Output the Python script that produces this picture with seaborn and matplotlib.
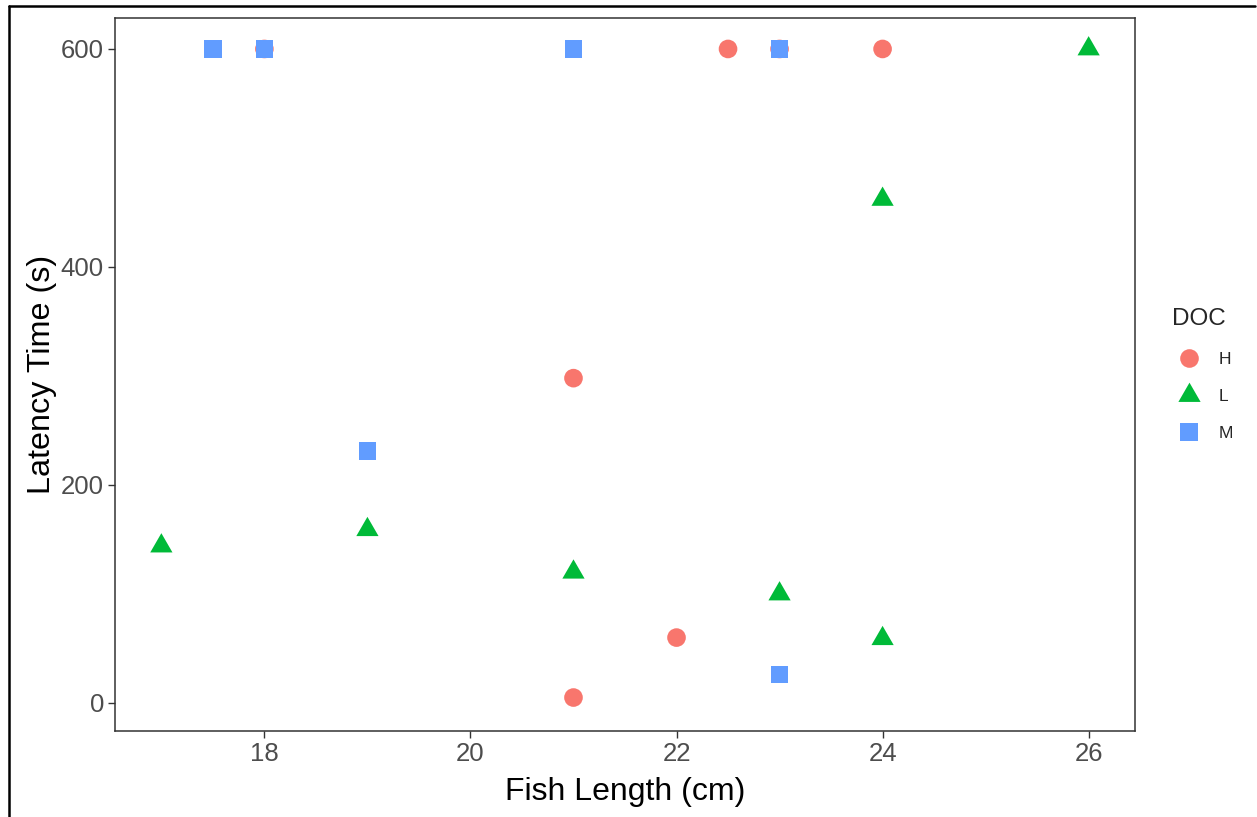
import numpy as np
import pandas as pd
import matplotlib
matplotlib.use("Agg")
import matplotlib.pyplot as plt
from matplotlib.lines import Line2D
import seaborn as sns

# ---- data ----
doc_levels = ["H", "L", "M"]
h_length = [18, 22.5, 23, 24, 21, 22, 21]
h_latency = [600, 600, 600, 600, 298, 60, 5]
l_length = [17, 19, 21, 23, 24, 24, 26]
l_latency = [144, 159, 120, 100, 59, 462, 600]
m_length = [17.5, 18, 21, 23, 19, 23]
m_latency = [600, 600, 600, 600, 231, 26]
x_ticks = [18, 20, 22, 24, 26]
y_ticks = [0, 200, 400, 600]

df = pd.DataFrame({
    "Fish Length (cm)": h_length + l_length + m_length,
    "Latency Time (s)": h_latency + l_latency + m_latency,
    "DOC": ["H"] * len(h_length) + ["L"] * len(l_length) + ["M"] * len(m_length),
})

palette = {"H": "#F8766D", "L": "#00BA38", "M": "#619CFF"}
tri = [(0.0, 1.0), (-0.866, -0.5), (0.866, -0.5)]
markers = {"H": "o", "L": tri, "M": "s"}
sizes = {"H": 180, "L": 342, "M": 162}

sns.set_theme(style="white")
plt.rcParams["font.family"] = ["Liberation Sans", "DejaVu Sans"]

fig = plt.figure(figsize=(12.57, 8.17), dpi=100)
ax = fig.add_axes([115 / 1257, 1 - 731 / 817, 1020 / 1257, 713 / 817])

sns.scatterplot(data=df, x="Fish Length (cm)", y="Latency Time (s)",
                hue="DOC", style="DOC", size="DOC",
                hue_order=doc_levels, style_order=doc_levels, size_order=doc_levels,
                palette=palette, markers=markers, sizes=sizes,
                linewidth=0, edgecolor="none", alpha=1, ax=ax, legend=False)

ax.set_xlim(16.55, 26.45)
ax.set_ylim(-25.7, 628.4)
ax.set_xticks(x_ticks)
ax.set_yticks(y_ticks)
ax.tick_params(axis="both", which="both", direction="out", length=5, width=1.0,
               color="#333333", labelcolor="#4D4D4D", labelsize=18.5, pad=3,
               bottom=True, left=True)
for sp in ax.spines.values():
    sp.set_visible(True)
    sp.set_color("#333333")
    sp.set_linewidth(1.1)
ax.grid(False)
ax.set_xlabel("Fish Length (cm)", fontsize=23, color="black", labelpad=8)
ax.set_ylabel("Latency Time (s)", fontsize=23.3, color="black", labelpad=3)

handles = []
msz = {k: np.sqrt(v) for k, v in sizes.items()}
for lv in doc_levels:
    handles.append(Line2D([], [], linestyle="none", marker=markers[lv],
                          markersize=msz[lv], markerfacecolor=palette[lv],
                          markeredgewidth=0, color=palette[lv]))
leg = ax.legend(handles, doc_levels, title="DOC", loc="center left",
                bbox_to_anchor=(1.036, 0.5), frameon=False, fontsize=12.5,
                title_fontsize=17.5, labelspacing=1.25, handlelength=2.0,
                handletextpad=0.7, borderaxespad=0, borderpad=0)
leg._legend_box.align = "left"

# outer frame (left and top lines)
fig.add_artist(Line2D([8.5 / 1257, 8.5 / 1257], [0, 1 - 5.5 / 817],
                      transform=fig.transFigure, color="black", linewidth=1.8))
fig.add_artist(Line2D([8.5 / 1257, 1255 / 1257], [1 - 5.5 / 817, 1 - 5.5 / 817],
                      transform=fig.transFigure, color="black", linewidth=1.8))

fig.savefig("out.png", dpi=100, facecolor="white")
